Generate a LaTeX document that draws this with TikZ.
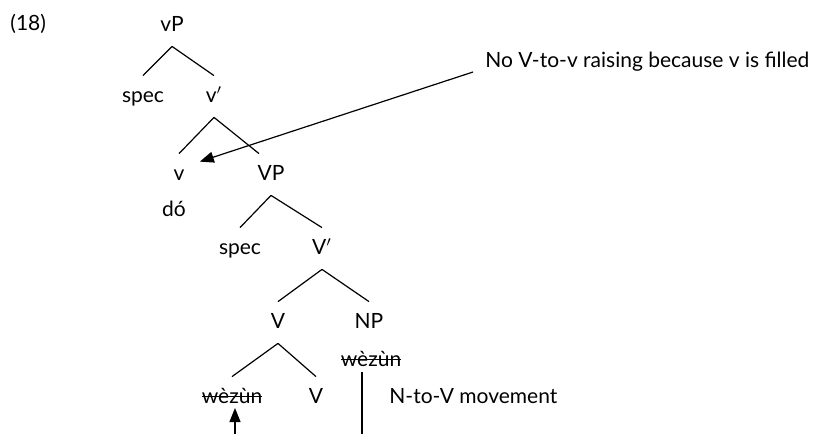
\documentclass[tikz,border=0pt]{standalone}
\usepackage{fontspec}
\setmainfont{Lato}
\usetikzlibrary{arrows.meta}
\newcommand\strikeword[1]{\setbox0\hbox{#1}\rlap{\rule[0.3em]{\wd0}{0.6pt}}\box0}
\tikzset{
  cat/.style    = {inner xsep=1pt, inner ysep=6pt, text height=7pt, text depth=1.5pt, anchor=base, font=\fontsize{10.5}{12}\selectfont},
  branch/.style = {line width=0.6pt},
  move/.style   = {line width=0.6pt, -{Triangle[length=7pt,width=5.5pt]}}
}

\begin{document}
\begin{tikzpicture}[x=0.5pt,y=0.5pt]
\useasboundingbox (0,0) rectangle (826,-434);

% example number
\node[cat, anchor=base west] (ex) at (8,-30) {(18)};

% the vP shell
\node[cat] (vP)    at (172,-31)  {vP};
\node[cat] (spec1) at (143,-102) {spec};
\node[cat] (vbar)  at (214,-102) {v$'$};
\node[cat] (v)     at (179,-180) {v};
\node[cat] (VP)    at (271,-180) {VP};
\node[cat] (do)    at (174,-216) {dó};

% the lower VP
\node[cat] (spec2) at (240,-254) {spec};
\node[cat] (Vbar)  at (322,-254) {V$'$};
\node[cat] (V)     at (278,-328) {V};
\node[cat] (NP)    at (369,-328) {NP};
\node[cat] (nounNP) at (371,-366) {\strikeword{wèzùn}};
\node[cat] (nounV)  at (232,-403) {\strikeword{wèzùn}};
\node[cat] (Vhead)  at (316,-403) {V};

% notes
\node[cat, anchor=base west] (note) at (483,-67)  {No V-to-v raising because v is filled};
\node[cat, anchor=base west] (ntov) at (387,-403) {N-to-V movement};

% branches
\foreach \p/\c in {vP/spec1, vP/vbar, vbar/v, VP/spec2, VP/Vbar, Vbar/V, Vbar/NP, V/nounV, V/Vhead}
  \draw[branch] (\p.south) -- (\c.north);
\draw[branch] (vbar.south) -- ([xshift=-6pt]VP.north);

% movement lines
\coordinate (trace)   at (362,-434);
\coordinate (landing) at (235,-434);
\draw[move] ([shift={(-10,-5)}]note.base west) -- ([shift={(13,-8)}]v.north east);
\draw[move] (landing) -- ([shift={(3,-5)}]nounV.base);
\draw[branch] (trace) -- ([shift={(-9,-6)}]nounNP.base);

\end{tikzpicture}
\end{document}
